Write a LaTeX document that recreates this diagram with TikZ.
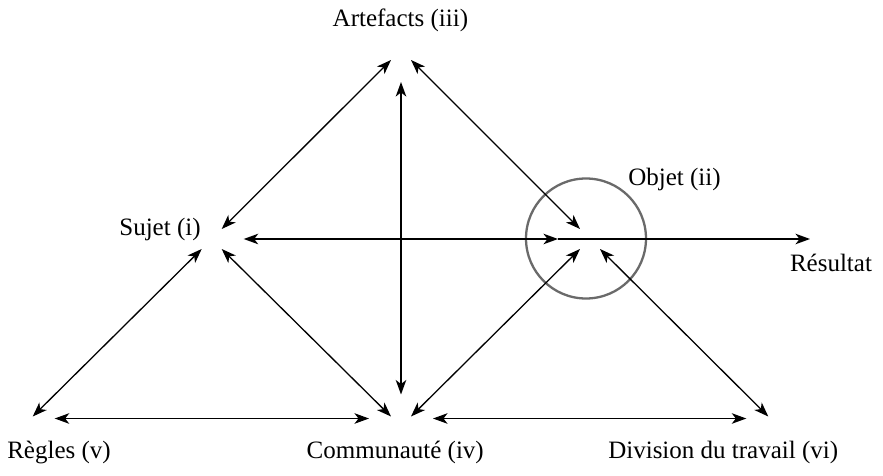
\documentclass[tikz,border=0pt]{standalone}
\usepackage{fontspec}
\setmainfont{Liberation Serif}
\usetikzlibrary{arrows.meta}
\definecolor{circgray}{HTML}{6A6A6A}
\tikzset{
  vtx/.style={rectangle, minimum width=20pt, minimum height=20pt, inner sep=0pt, outer sep=0pt},
  lbl/.style={inner sep=0pt, outer sep=0pt, font=\fontsize{25}{30}\selectfont},
  tipst/.tip={Stealth[length=14.5pt,width=10.5pt,inset=4pt]},
  dbl/.style={line width=1.3pt, {tipst}-{tipst}},
  sgl/.style={line width=1.3pt, -{tipst}},
  ring/.style={draw=circgray, line width=2.3pt}
}
\begin{document}
\begin{tikzpicture}[x=1pt,y=-1pt]
\useasboundingbox (0,0) rectangle (883,476);
% vertices
\node[vtx] (A) at (401,50) {};
\node[vtx] (S) at (211.7,239) {};
\node[vtx] (O) at (590,239) {};
\node[vtx] (R) at (22.7,426.5) {};
\node[vtx] (C) at (401,426.5) {};
\node[vtx] (D) at (778.3,426.5) {};
\coordinate (Res) at (810,239);
% circle around object
\draw[ring] (586,238.5) circle[radius=60];
% labels
\node[lbl, anchor=base] (LA) at (400.4,26.7) {Artefacts (iii)};
\node[lbl, anchor=base] (LS) at (160,235) {Sujet (i)};
\node[lbl, anchor=base] (LO) at (674.5,185) {Objet (ii)};
\node[lbl, anchor=base] (LRes) at (831,271) {Résultat};
\node[lbl, anchor=base west] (LR) at (7.3,458) {Règles (v)};
\node[lbl, anchor=base west] (LC) at (306.7,458) {Communauté (iv)};
\node[lbl, anchor=base west] (LD) at (608.3,458) {Division du travail (vi)};
% connectors
\draw[dbl] (S.north east) -- (A.south west);
\draw[dbl] (A.south east) -- (O.north west);
\draw[dbl] (R.north east) -- (S.south west);
\draw[dbl] (S.south east) -- (C.north west);
\draw[dbl] (C.north east) -- (O.south west);
\draw[dbl] (O.south east) -- (D.north west);
\draw[dbl, shorten <=22pt, shorten >=22pt] (A) -- (C);
\draw[dbl, shorten <=22pt, shorten >=22pt] (S) -- (O);
\draw[sgl] ([xshift=-32pt]O.center) -- (Res);
\draw[dbl, shorten <=32pt, shorten >=32pt] ([yshift=8pt]R.center) -- ([yshift=8pt]C.center);
\draw[dbl, shorten <=32pt, shorten >=32pt] ([yshift=8pt]C.center) -- ([yshift=8pt]D.center);
\end{tikzpicture}
\end{document}
